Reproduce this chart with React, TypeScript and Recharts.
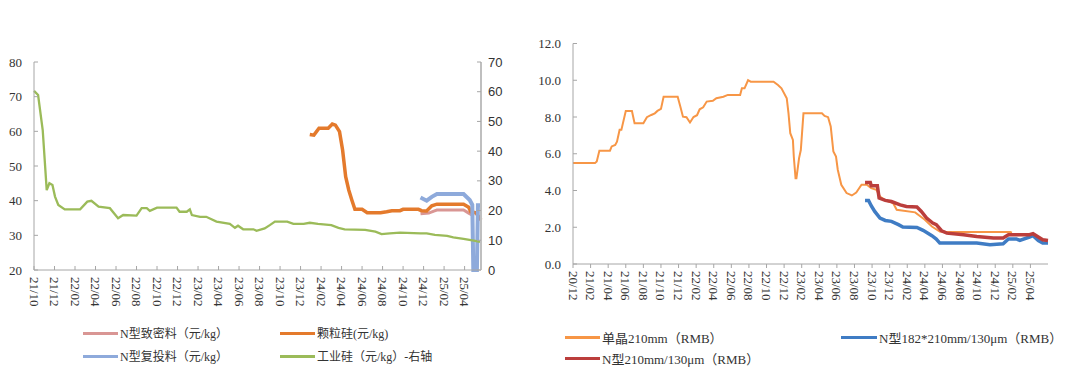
import { LineChart, Line, XAxis, YAxis } from 'recharts';

// ---- left chart: x = months since 2021-10 ----
const leftMonthLabels = ['21/10', '21/12', '22/02', '22/04', '22/06', '22/08', '22/10', '22/12', '23/02', '23/04', '23/06',
  '23/08', '23/10', '23/12', '24/02', '24/04', '24/06', '24/08', '24/10', '24/12', '25/02', '25/04'];
const leftYTicks = [20, 30, 40, 50, 60, 70, 80];
const rightYTicks = [0, 10, 20, 30, 40, 50, 60, 70];

// [month, 元/kg]
const nDense: [number, number][] = [
  [37.7, 36.2], [38.5, 36.4], [39.0, 37.0], [39.3, 37.3], [41.9, 37.3], [42.4, 36.4], [42.9, 35.6],
];
const granular: [number, number][] = [
  [26.9, 59.1], [27.3, 58.9], [27.8, 60.9], [28.7, 60.9], [29.1, 62.1], [29.4, 61.8], [29.8, 59.9], [30.1, 54.6],
  [30.4, 46.9], [30.7, 43.1], [31.0, 40.2], [31.3, 37.5], [32.0, 37.5], [32.5, 36.5], [33.8, 36.5], [34.4, 36.8],
  [34.9, 37.1], [35.7, 37.1], [36.0, 37.5], [37.5, 37.5], [37.8, 37.1], [38.3, 37.0], [38.8, 38.5], [39.3, 39.0],
  [41.9, 39.0], [42.4, 38.1], [42.6, 36.8], [43.1, 36.5], [43.6, 34.4],
];
const nRecharge: [number, number][] = [
  [37.7, 40.9], [38.3, 40.0], [38.8, 41.1], [39.3, 41.9], [41.9, 41.9], [42.5, 40.2], [42.75, 38.8],
  [42.85, 20], [43.2, 20], [43.3, 38.7], [43.6, 38.7],
];
// 工业硅, right axis
const metalSi: [number, number][] = [
  [0, 60.3], [0.4, 58.9], [0.85, 47.1], [1.24, 26.9], [1.5, 29.2], [1.8, 28.6], [2.05, 24.7], [2.37, 21.9],
  [3, 20.4], [4.5, 20.4], [5.2, 23.0], [5.6, 23.3], [6.3, 21.3], [7.4, 20.8], [8.2, 17.4], [8.7, 18.5],
  [10, 18.3], [10.5, 20.8], [11, 20.8], [11.3, 19.9], [12, 21.0], [13.9, 21.0], [14.2, 19.6], [14.9, 19.6],
  [15.2, 20.4], [15.4, 18.5], [16.2, 17.9], [16.8, 17.9], [17.8, 16.3], [19.1, 15.5], [19.6, 14.2], [19.9, 14.9],
  [20.4, 13.7], [21.4, 13.7], [21.7, 13.2], [22.5, 14.0], [23, 15.1], [23.5, 16.3], [24.7, 16.3], [25.3, 15.5],
  [26.3, 15.5], [26.9, 15.9], [27.7, 15.5], [29, 15.1], [29.7, 14.2], [30.3, 13.7], [32.3, 13.5], [33.3, 12.9],
  [33.9, 12.1], [34.7, 12.3], [35.7, 12.6], [37.7, 12.3], [38.3, 12.3], [39.1, 11.8], [40.3, 11.5], [40.9, 11.0],
  [41.9, 10.5], [42.9, 9.9], [43.5, 9.5],
];

// ---- right chart: x = months since 2020-12 ----
const rightMonthLabels = ['20/12', '21/02', '21/04', '21/06', '21/08', '21/10', '21/12', '22/02', '22/04', '22/06',
  '22/08', '22/10', '22/12', '23/02', '23/04', '23/06', '23/08', '23/10', '23/12', '24/02', '24/04', '24/06',
  '24/08', '24/10', '24/12', '25/02', '25/04'];
const waferYTicks = [0, 2, 4, 6, 8, 10, 12];

const mono210: [number, number][] = [
  [0, 5.49], [2.5, 5.49], [2.7, 5.58], [3.0, 6.17], [4.2, 6.17], [4.4, 6.4], [4.8, 6.48], [5.0, 6.66],
  [5.3, 7.3], [5.5, 7.3], [6.0, 8.33], [6.7, 8.33], [7.0, 7.66], [8.0, 7.66], [8.4, 7.99], [8.9, 8.11],
  [9.3, 8.2], [9.6, 8.33], [10.0, 8.44], [10.3, 9.1], [11.9, 9.1], [12.2, 8.57], [12.5, 8.02], [12.9, 7.99],
  [13.3, 7.7], [13.7, 8.0], [14.1, 8.1], [14.4, 8.42], [14.8, 8.53], [15.2, 8.84], [15.9, 8.88], [16.3, 9.02],
  [17.1, 9.1], [17.6, 9.2], [19.0, 9.2], [19.2, 9.56], [19.5, 9.56], [19.9, 10.0], [20.2, 9.92], [22.8, 9.92],
  [23.3, 9.74], [23.7, 9.56], [24.3, 9.02], [24.5, 8.2], [24.7, 7.12], [25.0, 6.75], [25.1, 5.85], [25.3, 4.67],
  [25.4, 4.67], [25.7, 5.76], [25.9, 6.2], [26.2, 8.2], [28.3, 8.2], [28.6, 8.06], [29.0, 7.99], [29.3, 7.48],
  [29.6, 6.12], [29.9, 5.85], [30.1, 5.13], [30.5, 4.31], [31.1, 3.86], [31.7, 3.73], [32.2, 3.89], [32.8, 4.31],
  [33.4, 4.31], [33.9, 4.13], [34.5, 4.04], [34.9, 3.67], [35.5, 3.46], [36.4, 3.31], [36.8, 2.95], [38.9, 2.81],
  [40.0, 2.41], [40.8, 2.04], [41.7, 1.77], [42.5, 1.74], [49.7, 1.74], [49.9, 1.7],
];
const n182: [number, number][] = [
  [33.2, 3.46], [33.6, 3.46], [33.9, 3.17], [34.3, 2.86], [34.9, 2.5], [35.5, 2.37], [36.2, 2.32], [37.0, 2.14],
  [37.5, 2.01], [39.1, 1.99], [39.8, 1.83], [40.8, 1.54], [41.3, 1.36], [41.7, 1.14], [45.9, 1.14], [47.4, 1.05],
  [48.9, 1.1], [49.5, 1.36], [50.4, 1.36], [50.8, 1.28], [51.9, 1.47], [52.3, 1.54], [52.9, 1.28], [53.4, 1.14],
  [54.0, 1.14],
];
const n210: [number, number][] = [
  [33.2, 4.44], [33.8, 4.44], [33.9, 4.26], [34.6, 4.26], [34.8, 3.59], [35.5, 3.46], [36.2, 3.4], [37.2, 3.22],
  [37.9, 3.13], [39.1, 3.1], [39.6, 2.86], [40.2, 2.5], [40.9, 2.23], [41.3, 2.14], [41.9, 1.81], [42.5, 1.68],
  [44.4, 1.59], [45.9, 1.5], [47.8, 1.41], [48.9, 1.41], [49.5, 1.59], [51.9, 1.59], [52.3, 1.65], [52.9, 1.47],
  [53.4, 1.32], [54.0, 1.28],
];

const SERIF = "'Liberation Serif', 'Times New Roman', 'Noto Sans CJK SC', serif";
const SANS = "'Liberation Sans', Arial, sans-serif";
const AXIS = '#a6a6a6';
const TEXT = '#333';

const pts = (arr: [number, number][]) => arr.map(([t, v]) => ({ t, v }));

function xTick(labels: string[], margin: number, inward: boolean) {
  return (props: any) => {
    const { x, y, payload } = props;
    const axisY = y - margin;
    const label = labels[Math.round(payload.value / 2)];
    return (
      <g>
        <line x1={x} x2={x} y1={axisY} y2={inward ? axisY - 4 : axisY + 4} stroke={AXIS} />
        <text x={x} y={y} transform={`rotate(90 ${x} ${y})`} textAnchor="start" dominantBaseline="central"
          fontSize={13} fill={TEXT} fontFamily={SERIF}>{label}</text>
      </g>
    );
  };
}

function yTick(side: 'left' | 'right', margin: number, font: string, fmt: (v: number) => string) {
  return (props: any) => {
    const { x, y, payload } = props;
    const axisX = side === 'left' ? x + margin : x - margin;
    return (
      <g>
        <line x1={axisX} x2={side === 'left' ? axisX + 4 : axisX - 4} y1={y} y2={y} stroke={AXIS} />
        <text x={x} y={y} textAnchor={side === 'left' ? 'end' : 'start'} dominantBaseline="central"
          fontSize={13} fill={TEXT} fontFamily={font}>{fmt(payload.value)}</text>
      </g>
    );
  };
}

function LegendItem({ x, y, color, label, w = 35 }: { x: number; y: number; color: string; label: string; w?: number }) {
  return (
    <div style={{ position: 'absolute', left: x, top: y - 10, height: 20, display: 'flex', alignItems: 'center', whiteSpace: 'nowrap' }}>
      <span style={{ display: 'inline-block', width: w, height: 3, background: color, marginRight: 2 }} />
      <span style={{ fontFamily: SERIF, color: TEXT }}>{label}</span>
    </div>
  );
}

const leftXTicks = leftMonthLabels.map((_, i) => i * 2);
const rightXTicks = rightMonthLabels.map((_, i) => i * 2);

export default function App() {
  return (
    <div style={{ position: 'absolute', left: 0, top: 0, width: 1080, height: 373, background: '#fff', overflow: 'hidden' }}>
      <div style={{ position: 'absolute', left: 0, top: 0 }}>
        <LineChart width={520} height={330} margin={{ top: 62, right: 0, bottom: 10, left: 0 }}>
          <XAxis type="number" dataKey="t" domain={[0, 43.6]} ticks={leftXTicks} interval={0} height={50}
            tickSize={0} tickMargin={7} tick={xTick(leftMonthLabels, 7, true)} axisLine={{ stroke: AXIS }} tickLine={false} />
          <YAxis yAxisId="l" domain={[20, 80]} ticks={leftYTicks} width={34} interval={0}
            tickSize={0} tickMargin={12} tick={yTick('left', 12, SERIF, (v) => String(v))} axisLine={{ stroke: AXIS }} tickLine={false} />
          <YAxis yAxisId="r" orientation="right" domain={[0, 70]} ticks={rightYTicks} width={39} interval={0}
            tickSize={0} tickMargin={7} tick={yTick('right', 7, SANS, (v) => String(v))} axisLine={{ stroke: '#bfbfbf', strokeWidth: 2 }} tickLine={false} />
          <Line yAxisId="l" data={pts(nDense)} dataKey="v" stroke="#d99694" strokeWidth={3} dot={false} isAnimationActive={false} />
          <Line yAxisId="l" data={pts(granular)} dataKey="v" stroke="#e47a2c" strokeWidth={3.5} dot={false} isAnimationActive={false} />
          <Line yAxisId="l" data={pts(nRecharge)} dataKey="v" stroke="#8eaadb" strokeWidth={4} dot={false} isAnimationActive={false} />
          <Line yAxisId="r" data={pts(metalSi)} dataKey="v" stroke="#9bbb59" strokeWidth={2.3} dot={false} isAnimationActive={false} />
        </LineChart>
      </div>
      <div style={{ fontSize: 12 }}>
        <LegendItem x={83} y={333} color="#d99694" label="N型致密料（元/kg）" />
        <LegendItem x={280} y={333} color="#e47a2c" label="颗粒硅(元/kg)" />
        <LegendItem x={83} y={356} color="#8eaadb" label="N型复投料（元/kg）" />
        <LegendItem x={280} y={356} color="#9bbb59" label="工业硅（元/kg）-右轴" />
      </div>

      <div style={{ position: 'absolute', left: 528, top: 0 }}>
        <LineChart width={532} height={330} margin={{ top: 43.5, right: 12, bottom: 16, left: 0 }}>
          <XAxis type="number" dataKey="t" domain={[0, 54]} ticks={rightXTicks} interval={0} height={50}
            tickSize={0} tickMargin={7} tick={xTick(rightMonthLabels, 7, false)} axisLine={{ stroke: AXIS }} tickLine={false} />
          <YAxis domain={[0, 12]} ticks={waferYTicks} width={45} interval={0}
            tickSize={0} tickMargin={12} tick={yTick('left', 12, SERIF, (v) => v.toFixed(1))} axisLine={{ stroke: AXIS }} tickLine={false} />
          <Line data={pts(mono210)} dataKey="v" stroke="#f79646" strokeWidth={2} dot={false} isAnimationActive={false} />
          <Line data={pts(n182)} dataKey="v" stroke="#3f7cc4" strokeWidth={3.5} dot={false} isAnimationActive={false} />
          <Line data={pts(n210)} dataKey="v" stroke="#bb3e3c" strokeWidth={3.5} dot={false} isAnimationActive={false} />
        </LineChart>
      </div>
      <div style={{ fontSize: 13 }}>
        <LegendItem x={565} y={337} color="#f79646" label="单晶210mm（RMB）" />
        <LegendItem x={841} y={337} color="#3f7cc4" label="N型182*210mm/130μm（RMB）" w={36} />
        <LegendItem x={565} y={358} color="#bb3e3c" label="N型210mm/130μm（RMB）" />
      </div>
    </div>
  );
}
